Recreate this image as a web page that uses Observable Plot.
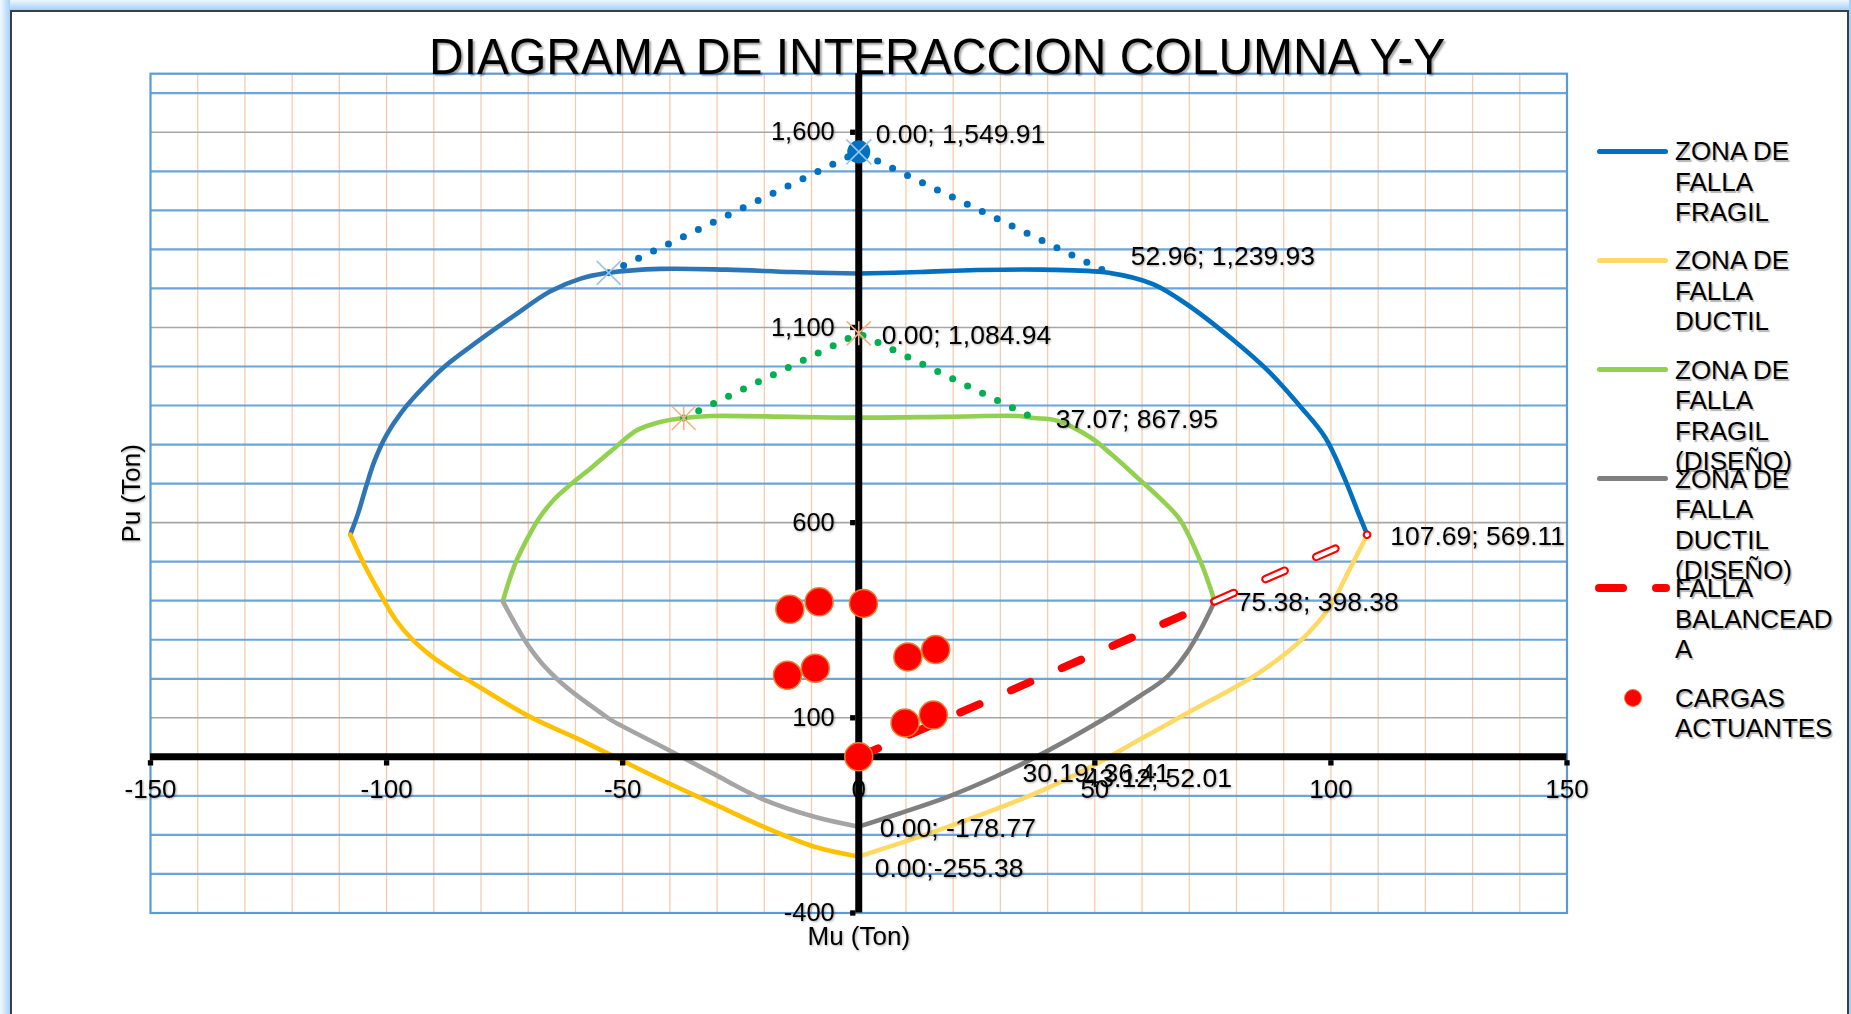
<!DOCTYPE html>
<html>
<head>
<meta charset="utf-8">
<script src="https://cdn.jsdelivr.net/npm/d3@7"></script>
<script src="https://cdn.jsdelivr.net/npm/@observablehq/plot@0.6"></script>
<style>
  html, body { margin: 0; padding: 0; width: 1851px; height: 1014px; overflow: hidden; background: #fff;
    font-family: "Liberation Sans", Arial, sans-serif; }
  #topband { position: absolute; left: 0; top: 0; width: 1851px; height: 10px; background: linear-gradient(#eef6ff, #a6d0f8); }
  #leftband { position: absolute; left: 0; top: 0; width: 10px; height: 1014px; background: linear-gradient(to right, #f4f9ff, #a6d0f8); }
  #rightband { position: absolute; left: 1849px; top: 0; width: 2px; height: 1014px; background: #a6d0f8; }
  #frame { position: absolute; left: 10px; top: 10px; width: 1835px; height: 1010px; border: 2px solid #3a3f44; border-bottom: none; background: #fff; }
  #chart { position: absolute; left: 0; top: 0; z-index: 1; }
  #chart svg { max-width: none; overflow: visible; }
  #chart svg g[aria-label="text"] { filter: drop-shadow(1.5px 1.5px 1px rgba(0,0,0,0.35)); }
  #title { position: absolute; left: 429px; top: 34px; width: 1000px; text-align: center; font-size: 48px; line-height: 48px;
    color: #000; z-index: 2; white-space: nowrap; text-shadow: 2px 2px 2px rgba(0,0,0,0.35);
    transform: scale(1, 1.06); transform-origin: 50% 85%; }
  .lg-text { position: absolute; left: 1675px; width: 165px; font-size: 26px; line-height: 30.5px; color: #000;
    overflow-wrap: anywhere; text-shadow: 1.5px 1.5px 1px rgba(0,0,0,0.3); z-index: 2; }
  .lg-line { position: absolute; height: 5px; border-radius: 2.5px; z-index: 2; }
  .lg-dot { position: absolute; width: 16px; height: 16px; border-radius: 50%; background: #ff0000; border: 1px solid #ed7d31; z-index: 2; }
</style>
</head>
<body>
<div id="topband"></div>
<div id="leftband"></div>
<div id="rightband"></div>
<div id="frame"></div>
<div id="chart"></div>
<div id="title">DIAGRAMA DE INTERACCION COLUMNA Y-Y</div>
<div id="legend"></div>
<script>
// ---------------- DATA (Mu [Ton], Pu [Ton]) ----------------
const xTicks = [-150, -100, -50, 0, 50, 100, 150];
const xTickLabels = ["-150", "-100", "-50", "0", "50", "100", "150"];
const yTicks = [-400, 100, 600, 1100, 1600];
const yTickLabels = ["-400", "100", "600", "1,100", "1,600"];

// Zona de falla fragil (left half, right half)
const fragilIzq = [[-107.69, 569.11], [-106, 625], [-104.4, 690], [-102.5, 760], [-100, 825], [-97, 880],
  [-93.5, 930], [-88, 997], [-80.5, 1066], [-73, 1130], [-65.4, 1192], [-58.9, 1225], [-52.96, 1239.93],
  [-42, 1250], [-28, 1248], [-14, 1242], [0, 1238]];
const fragil = [[0, 1238], [13, 1242], [25, 1247], [39, 1248], [52.96, 1239.93], [62.3, 1211], [69.4, 1160],
  [79.5, 1066], [86.6, 990], [93.7, 895], [98.8, 818], [102.8, 716], [105.9, 622], [107.69, 569.11]];

// Zona de falla ductil
const ductilIzq = [[-107.69, 569.11], [-104.5, 487], [-101, 410], [-98, 350], [-94.5, 300], [-90.5, 258],
  [-85.5, 217], [-80.5, 180], [-69.7, 103], [-58.9, 43], [-50.3, -8.5], [-41.6, -60], [-30.8, -120], [-20, -180],
  [-9.2, -231], [0, -255.38]];
const ductil = [[0, -255.38], [18.7, -180], [39, -85], [49.1, -26], [59.3, 43], [69.4, 111], [84.6, 214],
  [93.7, 299], [99.8, 385], [103.9, 479], [107.69, 569.11]];

// Zona de falla fragil (diseño)
const fragilDiseno = [[-75.38, 398.38], [-74, 453], [-72.4, 505], [-70.8, 545], [-67.6, 613], [-64.5, 660],
  [-61, 698], [-56.5, 742], [-52.4, 784], [-46.9, 837], [-42, 858], [-37.07, 867.95], [-31.4, 873], [-14, 871],
  [0, 869], [18.7, 871], [33.9, 873], [37.07, 867.95], [42, 861], [49.1, 818], [54, 770], [59.3, 712], [64, 660],
  [68, 608], [72.4, 500], [75.38, 398.38]];

// Zona de falla ductil (diseño)
const ductilDisenoIzq = [[-75.38, 398.38], [-72.5, 335], [-70, 285], [-67, 238], [-63.5, 195], [-60, 160],
  [-55, 116], [-52.4, 94], [-41.6, 26], [-30.8, -43], [-20, -110], [-9.2, -154], [0, -178.77]];
const ductilDiseno = [[0, -178.77], [8.6, -145], [18.7, -103], [28.9, -51], [39, 9], [49.1, 77], [59.3, 154],
  [65.3, 205], [69.4, 265], [72.8, 335], [75.38, 398.38]];

// Compression caps (dotted)
const capFragil = [[-52.96, 1239.93], [0, 1549.91], [52.96, 1239.93]];
const capDiseno = [[-37.07, 867.95], [0, 1084.94], [37.07, 867.95]];

// Falla balanceada
const balanceada = [[0, 0], [75.38, 398.38]];
const balanceadaExt = [[75.38, 398.38], [107.69, 569.11]];

// Cargas actuantes
const cargas = [[-14.6, 378], [-8.4, 397], [1.0, 393], [-15.1, 209], [-9.2, 227], [10.4, 256], [16.3, 275],
  [9.8, 87], [15.8, 107], [0, 0]];

// Data label texts
const labelTexts = {
  top: "0.00; 1,549.91", fragilCorner: "52.96; 1,239.93", topDiseno: "0.00; 1,084.94",
  disenoCorner: "37.07; 867.95", balanced: "107.69; 569.11", balancedDiseno: "75.38; 398.38",
  tensionDiseno: "0.00; -178.77", tension: "0.00;-255.38", crossA: "30.19; 36.41", crossB: "43.12; 52.01"
};

const legendItems = [
  {label: "ZONA DE FALLA FRAGIL", color: "#0070c0", kind: "line"},
  {label: "ZONA DE FALLA DUCTIL", color: "#ffd966", kind: "line"},
  {label: "ZONA DE FALLA FRAGIL (DISEÑO)", color: "#92d050", kind: "line"},
  {label: "ZONA DE FALLA DUCTIL (DISEÑO)", color: "#7f7f7f", kind: "line"},
  {label: "FALLA BALANCEADA", color: "#ff0000", kind: "dash"},
  {label: "CARGAS ACTUANTES", color: "#ff0000", kind: "dot"}
];

// ---------------- CHART ----------------
const FONT = "Liberation Sans, Arial, sans-serif";
const W = 1580, H = 1014;
const X = d => d[0], Y = d => d[1];
const xTickTable = xTicks.map((v, i) => ({v, label: xTickLabels[i]}));
const yTickTable = yTickLabels.map((label, i) => ({v: yTicks[i], label}));
const yMinor = d3.range(-300, 1750, 100).filter(v => !yTicks.includes(v) && v !== 0);
const xMinor = d3.range(-140, 150, 10).filter(v => v !== 0);

const exX = {
  draw(ctx, size) { const r = Math.sqrt(size / Math.PI); ctx.moveTo(-r, -r); ctx.lineTo(r, r); ctx.moveTo(-r, r); ctx.lineTo(r, -r); }
};
const exStar = {
  draw(ctx, size) { const r = Math.sqrt(size / Math.PI); ctx.moveTo(-r, -r); ctx.lineTo(r, r); ctx.moveTo(-r, r); ctx.lineTo(r, -r); ctx.moveTo(0, -r); ctx.lineTo(0, r); }
};

function curve(data, color, w = 4.6) {
  return Plot.line(data, {x: X, y: Y, stroke: color, strokeWidth: w, curve: "catmull-rom", strokeLinecap: "round", strokeLinejoin: "round"});
}
function dotted(data, color) {
  return Plot.line(data, {x: X, y: Y, stroke: color, strokeWidth: 7, strokeDasharray: "0,16.6", strokeLinecap: "round"});
}
function label(point, text, dx, dy) {
  return Plot.text([point], {x: X, y: Y, text: () => text, dx, dy, textAnchor: "start", fontSize: 26.5, fill: "black", fontFamily: FONT});
}
const DASH = "21,34.4";

const chart = Plot.plot({
  width: W, height: H,
  marginLeft: 150, marginRight: W - 1566.5, marginTop: 73.2, marginBottom: H - 912.5,
  x: {domain: [-150, 150], axis: null},
  y: {domain: [-400, 1750], axis: null},
  style: {fontFamily: FONT, background: "transparent", overflow: "visible"},
  marks: [
    Plot.ruleX(xMinor, {stroke: "#f8cbad", strokeWidth: 1.3}),
    Plot.ruleY(yMinor, {stroke: "#5b9bd5", strokeWidth: 2.2, strokeOpacity: 0.9}),
    Plot.ruleY(yTicks, {stroke: "#a6a6a6", strokeWidth: 1.6}),
    Plot.frame({stroke: "#5b9bd5", strokeWidth: 2.2}),

    // tick labels (drawn under the axis lines)
    Plot.text(xTickTable, {x: "v", y: () => 0, text: "label", dy: 32.6, fontSize: 26, fill: "black", fontFamily: FONT}),
    Plot.text(yTickTable, {x: () => 0, y: "v", text: "label", dx: -24, textAnchor: "end", fontSize: 25.5, fill: "black", fontFamily: FONT}),

    // curves
    curve(fragilIzq, "#2e75b6"),
    curve(fragil, "#0070c0"),
    curve(ductilIzq, "#ffc000"),
    curve(ductil, "#ffd966"),
    curve(fragilDiseno, "#92d050"),
    curve(ductilDisenoIzq, "#a5a5a5"),
    curve(ductilDiseno, "#7f7f7f"),

    // axes
    Plot.ruleX([0], {stroke: "black", strokeWidth: 7}),
    Plot.ruleY([0], {stroke: "black", strokeWidth: 7}),
    Plot.dot(yTicks, {x: () => 0, y: d => d, symbol: "square", r: 3, dx: -6, fill: "black"}),
    Plot.dot(xTicks, {x: d => d, y: () => 0, symbol: "square", r: 3, dy: 6, fill: "black"}),

    // dotted caps
    dotted(capFragil, "#0070c0"),
    dotted(capDiseno, "#00b050"),

    // balanced failure line
    Plot.line(balanceada, {x: X, y: Y, stroke: "#ff0000", strokeWidth: 8, strokeDasharray: DASH, strokeLinecap: "round"}),
    Plot.line(balanceadaExt, {x: X, y: Y, stroke: "#ff0000", strokeWidth: 8.5, strokeDasharray: DASH, strokeLinecap: "round"}),
    Plot.line(balanceadaExt, {x: X, y: Y, stroke: "#ffffff", strokeWidth: 4.2, strokeDasharray: DASH, strokeLinecap: "round"}),

    // markers
    Plot.dot([capFragil[1]], {x: X, y: Y, r: 11.5, fill: "#0070c0"}),
    Plot.dot([capFragil[1]], {x: X, y: Y, r: 12.5, symbol: exX, fill: "none", stroke: "#9dc3e6", strokeWidth: 1.6}),
    Plot.dot([capFragil[0]], {x: X, y: Y, r: 12, symbol: exX, fill: "none", stroke: "#9dc3e6", strokeWidth: 1.6}),
    Plot.dot([capDiseno[0], capDiseno[1]], {x: X, y: Y, r: 12, symbol: exStar, fill: "none", stroke: "#f4b183", strokeWidth: 1.6}),

    // loads
    Plot.dot(cargas, {x: X, y: Y, r: 14, fill: "#ff0000", stroke: "#ed7d31", strokeWidth: 1.5}),

    // data labels
    label(capFragil[1], labelTexts.top, 17, -17.5),
    label(capFragil[2], labelTexts.fragilCorner, 22, -16),
    label(capDiseno[1], labelTexts.topDiseno, 23, 2),
    label(capDiseno[2], labelTexts.disenoCorner, 22, 1),
    label(fragil[fragil.length - 1], labelTexts.balanced, 23, 1.5),
    label(balanceada[1], labelTexts.balancedDiseno, 22, 1.5),
    label(ductilDiseno[0], labelTexts.tensionDiseno, 21, 2),
    label(ductil[0], labelTexts.tension, 16, 12),
    label(ductilDiseno[4], labelTexts.crossA, -20.5, 20),
    label(ductil[3], labelTexts.crossB, -6, 11.5),

    // axis titles
    Plot.text(["Pu (Ton)"], {frameAnchor: "left", text: d => d, rotate: -90, dx: -18.4, textAnchor: "middle", lineAnchor: "middle", fontSize: 26, fill: "black", fontFamily: FONT}),
    Plot.text(["Mu (Ton)"], {x: () => 0, frameAnchor: "bottom", text: d => d, dy: 23.5, textAnchor: "middle", lineAnchor: "middle", fontSize: 26, fill: "black", fontFamily: FONT})
  ]
});
document.getElementById("chart").appendChild(chart);

// ---------------- LEGEND ----------------
const legend = document.getElementById("legend");
const LG_Y0 = 151, LG_STEP = 109.3;
legendItems.forEach((item, i) => {
  const y = LG_Y0 + i * LG_STEP;
  if (item.kind === "line") {
    const l = document.createElement("div");
    l.className = "lg-line";
    Object.assign(l.style, {left: "1597px", width: "71px", top: (y - 2.5) + "px", background: item.color});
    legend.appendChild(l);
  } else if (item.kind === "dash") {
    [[1595, 32], [1652, 18]].forEach(([lx, lw]) => {
      const l = document.createElement("div");
      l.className = "lg-line";
      Object.assign(l.style, {left: lx + "px", width: lw + "px", top: (y - 4) + "px", height: "8px", borderRadius: "4px", background: item.color});
      legend.appendChild(l);
    });
  } else {
    const d = document.createElement("div");
    d.className = "lg-dot";
    Object.assign(d.style, {left: (1633 - 9) + "px", top: (y - 9) + "px"});
    legend.appendChild(d);
  }
  const t = document.createElement("div");
  t.className = "lg-text";
  t.style.top = (y - 15) + "px";
  t.textContent = item.label;
  legend.appendChild(t);
});
</script>
</body>
</html>
